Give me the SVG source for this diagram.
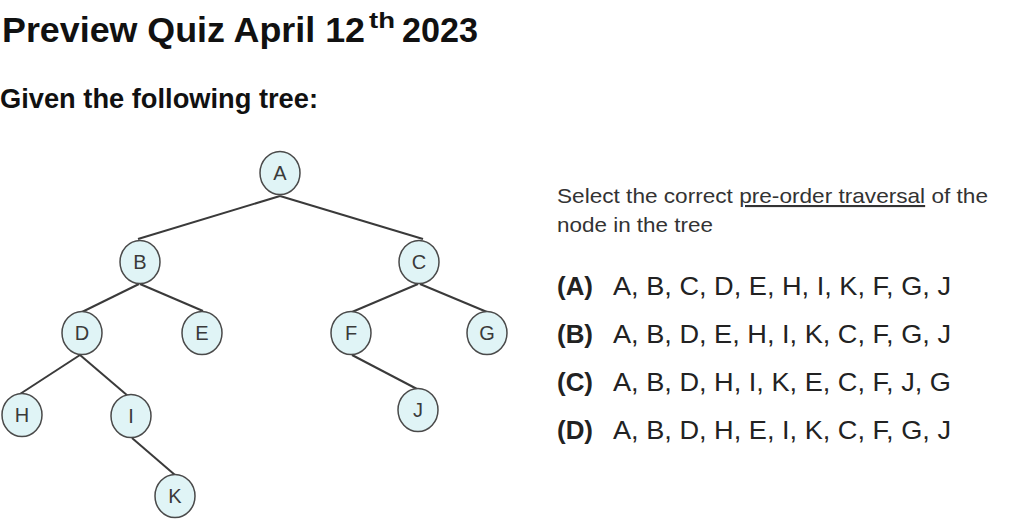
<svg xmlns="http://www.w3.org/2000/svg" width="1024" height="528" viewBox="0 0 1024 528">
<style>
.node ellipse{fill:#e0f4f6;stroke:#4a4a4a;stroke-width:1.5}
.node text{font-family:"Liberation Sans",Arial,sans-serif;font-size:20px;fill:#3a3a3a;text-anchor:middle}
.edges line{stroke:#3a3a3a;stroke-width:2}
.h{font-family:"Liberation Sans",Arial,sans-serif;font-weight:bold;fill:#111}
.q{font-family:"Liberation Sans",Arial,sans-serif;fill:#333;font-size:21px}
.opt{font-family:"Liberation Sans",Arial,sans-serif;fill:#222;font-size:26px}
.lab{font-weight:bold}
</style>
<rect width="1024" height="528" fill="#fff"/>
<text class="h" x="2" y="42" font-size="35" textLength="363" lengthAdjust="spacingAndGlyphs">Preview Quiz April 12</text>
<text class="h" x="369" y="28" font-size="22" textLength="26" lengthAdjust="spacingAndGlyphs">th</text>
<text class="h" x="402" y="42" font-size="35" textLength="76" lengthAdjust="spacingAndGlyphs">2023</text>
<text class="h" x="0" y="108" font-size="27" textLength="318" lengthAdjust="spacingAndGlyphs">Given the following tree:</text>

<g class="edges">
<line x1="280" y1="196" x2="138" y2="239"/>
<line x1="280" y1="196" x2="423" y2="239"/>
<line x1="139" y1="284" x2="82" y2="312"/>
<line x1="140" y1="284" x2="203" y2="311"/>
<line x1="418" y1="284" x2="352" y2="312"/>
<line x1="420" y1="284" x2="487" y2="312"/>
<line x1="80" y1="355" x2="20" y2="394"/>
<line x1="80" y1="355" x2="128" y2="396"/>
<line x1="352" y1="355" x2="417" y2="389"/>
<line x1="132" y1="438" x2="175" y2="475"/>
</g>

<g id="node-A" class="node"><ellipse cx="280" cy="173" rx="20" ry="21.5"/><text x="280" y="180">A</text></g>
<g id="node-B" class="node"><ellipse cx="140" cy="262" rx="20" ry="21.5"/><text x="140" y="269">B</text></g>
<g id="node-C" class="node"><ellipse cx="419" cy="262" rx="20" ry="21.5"/><text x="419" y="269">C</text></g>
<g id="node-D" class="node"><ellipse cx="82" cy="333" rx="20" ry="21.5"/><text x="82" y="340">D</text></g>
<g id="node-E" class="node"><ellipse cx="202" cy="333" rx="20" ry="21.5"/><text x="202" y="340">E</text></g>
<g id="node-F" class="node"><ellipse cx="351" cy="333" rx="20" ry="21.5"/><text x="351" y="340">F</text></g>
<g id="node-G" class="node"><ellipse cx="487" cy="333" rx="20" ry="21.5"/><text x="487" y="340">G</text></g>
<g id="node-H" class="node"><ellipse cx="22" cy="415" rx="20" ry="21.5"/><text x="22" y="422">H</text></g>
<g id="node-I" class="node"><ellipse cx="131" cy="416" rx="20" ry="21.5"/><text x="131" y="423">I</text></g>
<g id="node-J" class="node"><ellipse cx="418" cy="410" rx="20" ry="21.5"/><text x="418" y="417">J</text></g>
<g id="node-K" class="node"><ellipse cx="175" cy="496" rx="20" ry="21.5"/><text x="175" y="503">K</text></g>

<text class="q" x="557" y="203" textLength="431" lengthAdjust="spacingAndGlyphs">Select the correct <tspan text-decoration="underline">pre-order traversal</tspan> of the</text>
<text class="q" x="557" y="232" textLength="156" lengthAdjust="spacingAndGlyphs">node in the tree</text>

<text class="opt" y="295"><tspan class="lab" x="557" textLength="36" lengthAdjust="spacingAndGlyphs">(A)</tspan><tspan x="613" textLength="338" lengthAdjust="spacingAndGlyphs">A, B, C, D, E, H, I, K, F, G, J</tspan></text>
<text class="opt" y="343"><tspan class="lab" x="557" textLength="36" lengthAdjust="spacingAndGlyphs">(B)</tspan><tspan x="613" textLength="338" lengthAdjust="spacingAndGlyphs">A, B, D, E, H, I, K, C, F, G, J</tspan></text>
<text class="opt" y="391"><tspan class="lab" x="557" textLength="36" lengthAdjust="spacingAndGlyphs">(C)</tspan><tspan x="613" textLength="338" lengthAdjust="spacingAndGlyphs">A, B, D, H, I, K, E, C, F, J, G</tspan></text>
<text class="opt" y="439"><tspan class="lab" x="557" textLength="36" lengthAdjust="spacingAndGlyphs">(D)</tspan><tspan x="613" textLength="338" lengthAdjust="spacingAndGlyphs">A, B, D, H, E, I, K, C, F, G, J</tspan></text>
</svg>
